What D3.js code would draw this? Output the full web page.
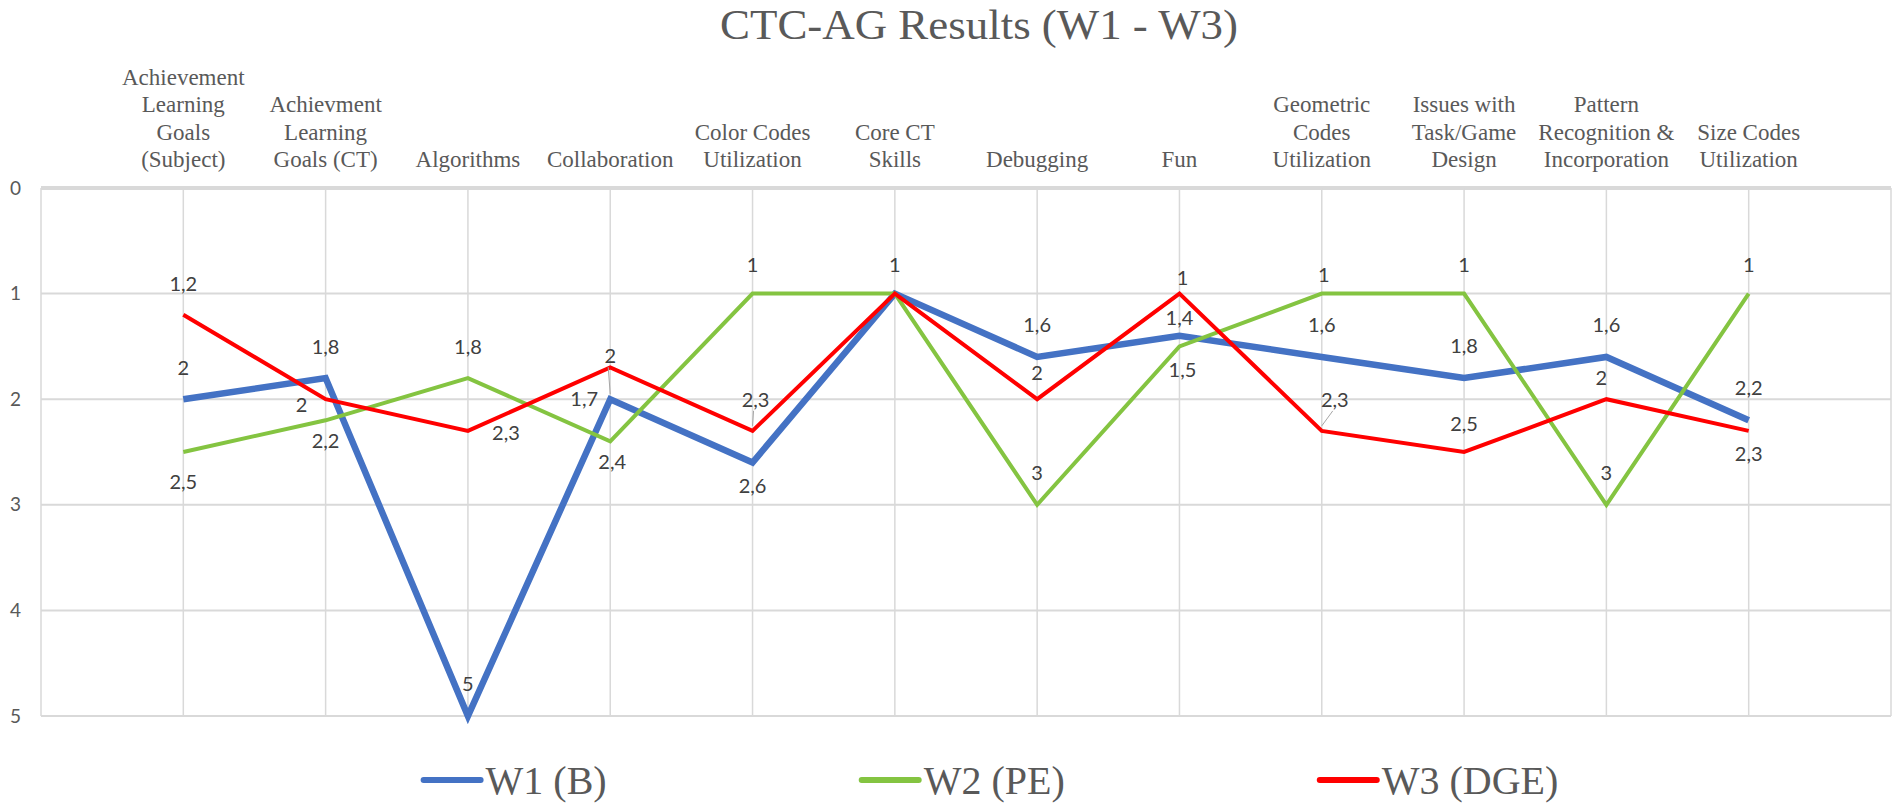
<!DOCTYPE html>
<html>
<head>
<meta charset="utf-8">
<script src="https://cdn.jsdelivr.net/npm/d3@7"></script>
<style>
  html, body { margin: 0; padding: 0; background: #fff; }
  svg { display: block; }
</style>
</head>
<body>
<svg id="chart" width="1902" height="812"></svg>
<script>
// categories (each entry is the wrapped label lines)
var categories = [
    ["Achievement", "Learning", "Goals", "(Subject)"],
    ["Achievment", "Learning", "Goals (CT)"],
    ["Algorithms"],
    ["Collaboration"],
    ["Color Codes", "Utilization"],
    ["Core CT", "Skills"],
    ["Debugging"],
    ["Fun"],
    ["Geometric", "Codes", "Utilization"],
    ["Issues with", "Task/Game", "Design"],
    ["Pattern", "Recognition &", "Incorporation"],
    ["Size Codes", "Utilization"]
];

var seriesNames = ["W1 (B)", "W2 (PE)", "W3 (DGE)"];
var w1 = [2, 1.8, 5, 2, 2.6, 1, 1.6, 1.4, 1.6, 1.8, 1.6, 2.2];
var w2 = [2.5, 2.2, 1.8, 2.4, 1, 1, 3, 1.5, 1, 1, 3, 1];
var w3 = [1.2, 2, 2.3, 1.7, 2.3, 1, 2, 1, 2.3, 2.5, 2, 2.3];
var yTicks = [0, 1, 2, 3, 4, 5];

// label placement [dx, dy, leader] relative to the point, null = hidden
var w1Labels = [[0,-31],[0,-31],[0,-32],[0,-43,1],[0,23],null,[0,-32],[0,-18],[0,-32],[0,-32],[0,-32],[0,-32]];
var w2Labels = [[0,30],[0,21],[0,-31],[2,21],[0,-29],[0,-29],[0,-32],[3,24],[2,-19],[0,-29],[0,-32],[0,-29]];
var w3Labels = [[0,-31],[-24,6],[38,2],[-26,31],[3,-31,1],null,[0,-26],[3,-16],[13,-31,1],[0,-28],[-5,-21],[0,23]];

var colors = ["#4472C4", "#84C441", "#FF0000"];
var widths = [6.5, 4, 4];

var svg = d3.select("#chart");

var x = d3.scalePoint()
    .domain(d3.range(categories.length))
    .range([41, 1891])
    .padding(1);

var y = d3.scaleLinear()
    .domain([0, 5])
    .range([188, 716]);

var grid = "#d9d9d9";
var textCol = "#595959";

// title
svg.append("text")
    .attr("x", 979)
    .attr("y", 39)
    .attr("text-anchor", "middle")
    .attr("font-family", "Liberation Serif, Times New Roman, serif")
    .attr("font-size", 42)
    .attr("textLength", 518)
    .attr("lengthAdjust", "spacingAndGlyphs")
    .attr("fill", textCol)
    .text("CTC-AG Results (W1 - W3)");

// horizontal gridlines
svg.append("g")
    .selectAll("line")
    .data(yTicks)
    .join("line")
    .attr("x1", 41)
    .attr("x2", 1891)
    .attr("y1", d => y(d))
    .attr("y2", d => y(d))
    .attr("stroke", grid)
    .attr("stroke-width", d => d === 0 ? 4 : 2);

// vertical gridlines + borders
var vx = [41].concat(categories.map((c, i) => x(i))).concat([1891]);
svg.append("g")
    .selectAll("line")
    .data(vx)
    .join("line")
    .attr("x1", d => d)
    .attr("x2", d => d)
    .attr("y1", y(0))
    .attr("y2", y(5))
    .attr("stroke", grid)
    .attr("stroke-width", 1.5);

// y tick labels
svg.append("g")
    .selectAll("text")
    .data(yTicks)
    .join("text")
    .attr("x", 21)
    .attr("y", d => y(d))
    .attr("dy", "0.35em")
    .attr("text-anchor", "end")
    .attr("font-family", "Lato, Carlito, sans-serif")
    .attr("font-size", 19)
    .attr("fill", textCol)
    .text(d => d);

// category labels, bottom aligned
var catG = svg.append("g")
    .attr("font-family", "Liberation Serif, Times New Roman, serif")
    .attr("font-size", 23)
    .attr("fill", textCol)
    .attr("text-anchor", "middle");

categories.forEach(function (lines, i) {
    lines.forEach(function (ln, j) {
        catG.append("text")
            .attr("x", x(i))
            .attr("y", 167 - (lines.length - 1 - j) * 27.5)
            .text(ln);
    });
});

// lines
var allSeries = [w1, w2, w3];
var allLabels = [w1Labels, w2Labels, w3Labels];

var line = d3.line()
    .x((d, i) => x(i))
    .y(d => y(d));

allSeries.forEach(function (vals, s) {
    svg.append("path")
        .datum(vals)
        .attr("fill", "none")
        .attr("stroke", colors[s])
        .attr("stroke-width", widths[s])
        .attr("stroke-linejoin", "miter")
        .attr("d", line);
});

// data labels
var fmt = v => String(v).replace(".", ",");
var lblG = svg.append("g")
    .attr("font-family", "Lato, Carlito, sans-serif")
    .attr("font-size", 20)
    .attr("fill", "#404040")
    .attr("text-anchor", "middle");

allSeries.forEach(function (vals, s) {
    vals.forEach(function (v, i) {
        var p = allLabels[s][i];
        if (!p) return;
        var lx = x(i) + p[0], ly = y(v) + p[1];
        if (p[2]) {
            lblG.append("line")
                .attr("x1", lx - 2)
                .attr("y1", ly + 11)
                .attr("x2", x(i))
                .attr("y2", y(v) - 5)
                .attr("stroke", "#a6a6a6")
                .attr("stroke-width", 1);
        }
        lblG.append("text")
            .attr("x", lx)
            .attr("y", ly)
            .attr("dy", "0.35em")
            .text(fmt(v));
    });
});

// legend
var leg = svg.append("g")
    .attr("font-family", "Liberation Serif, Times New Roman, serif")
    .attr("font-size", 40)
    .attr("fill", textCol);

var items = seriesNames.map(function (name, s) {
    var g = leg.append("g");
    g.append("line")
        .attr("x1", 0).attr("x2", 57)
        .attr("y1", 0).attr("y2", 0)
        .attr("stroke", colors[s])
        .attr("stroke-width", 6)
        .attr("stroke-linecap", "round");
    var t = g.append("text")
        .attr("x", 62)
        .attr("y", 0)
        .attr("dy", "0.35em")
        .text(name);
    return { g: g, w: 62 + t.node().getComputedTextLength() };
});

var gap = 255;
var total = d3.sum(items, d => d.w) + gap * (items.length - 1);
var cx = 991 - total / 2;
items.forEach(function (it) {
    it.g.attr("transform", "translate(" + cx + ",780)");
    cx += it.w + gap;
});
</script>
</body>
</html>
